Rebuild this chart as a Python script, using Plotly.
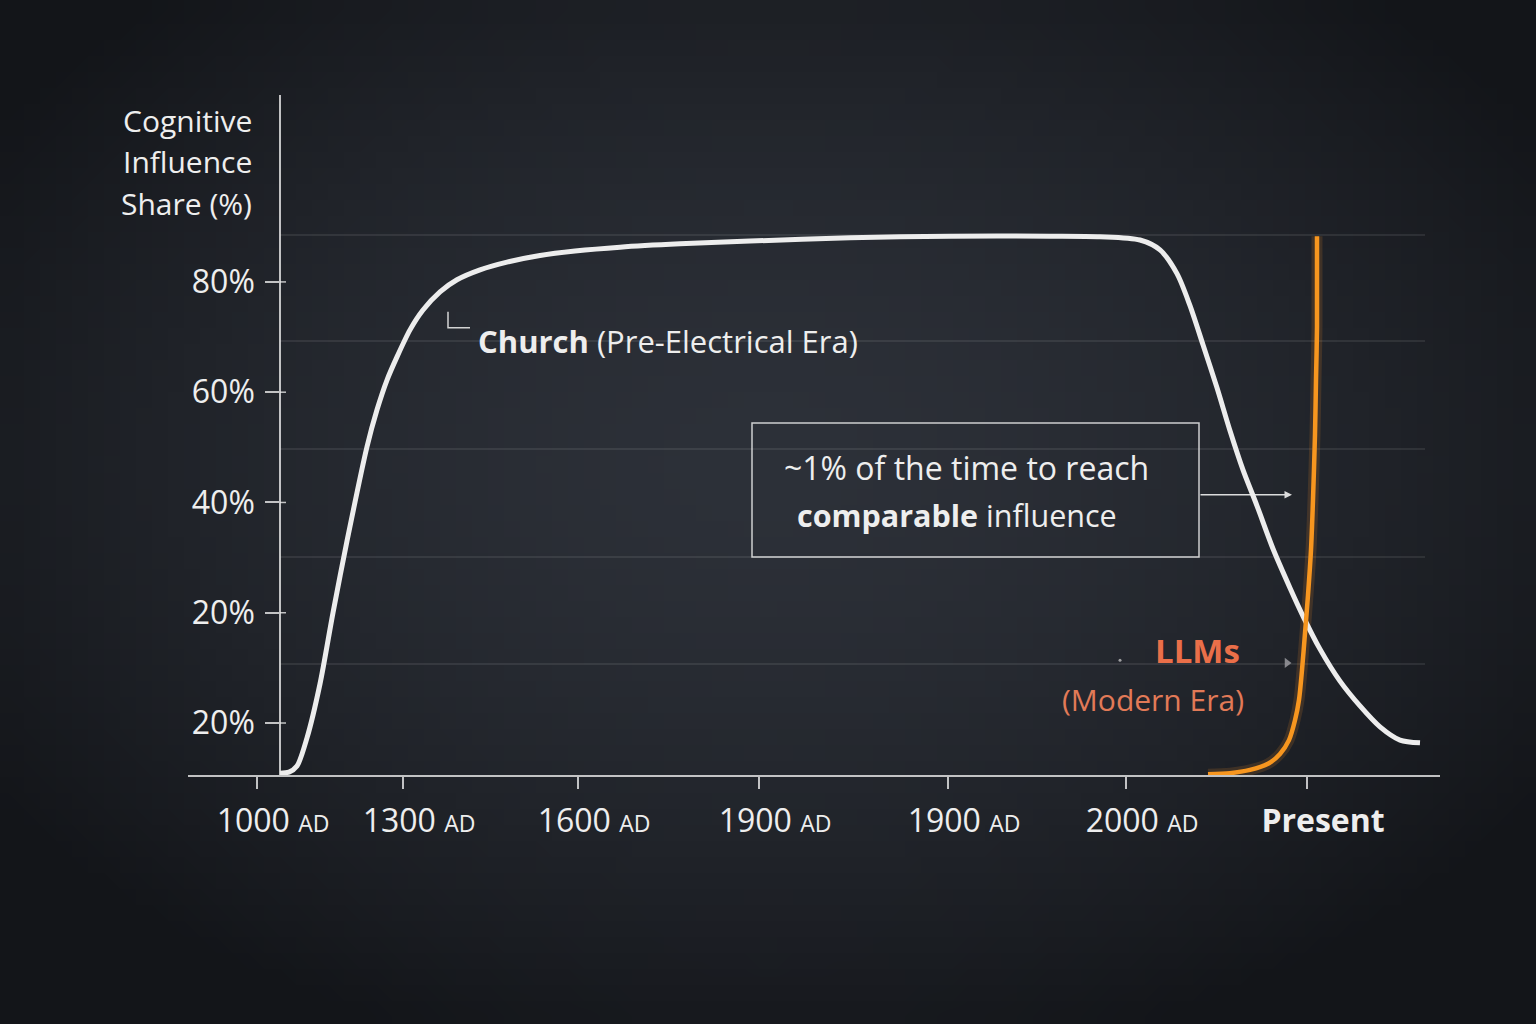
import base64
import struct
import zlib

import numpy as np
import plotly.graph_objects as go

# timeline positions of the x ticks and their labels
tick_pos = [257, 403, 578, 759, 948, 1126, 1307]
tick_years = ["1000", "1300", "1600", "1900", "1900", "2000"]

# y ticks (the picture labels the lowest one "20%" too)
y_tickvals = [0, 20, 40, 60, 80]
y_ticktext = ["20%", "20%", "40%", "60%", "80%"]

# faint horizontal guide lines
grid_levels = [10.7, 30.1, 49.7, 69.3, 88.5]

# Church (pre-electrical era) influence curve
church_x = [280, 289, 297, 307, 320, 333, 347, 367, 377, 387, 397, 410, 423, 440,
            457, 480, 507, 540, 575, 620, 680, 750, 850, 950, 1050, 1100, 1140, 1160,
            1177, 1190, 1203, 1217, 1230, 1243, 1257, 1273, 1290, 1303, 1320, 1340,
            1360, 1380, 1400, 1420]
church_y = [-9.1, -8.9, -7.8, -2.7, 7.1, 20.0, 33.0, 50.1, 56.8, 62.2, 66.4, 71.3,
            74.9, 78.2, 80.4, 82.2, 83.6, 84.8, 85.6, 86.3, 86.9, 87.4, 88.0, 88.3,
            88.3, 88.2, 87.6, 85.8, 81.5, 75.7, 68.6, 60.8, 53.0, 45.9, 39.4, 31.6,
            24.5, 19.4, 13.4, 7.6, 3.1, -0.7, -3.1, -3.6]

# LLM influence curve
llm_x = [1208, 1230, 1250, 1268, 1280, 1289, 1295, 1299, 1302, 1305, 1308, 1311,
         1313, 1315, 1316, 1317, 1317]
llm_y = [-9.3, -9.1, -8.5, -7.4, -5.6, -3.1, 0.5, 4.2, 9.6, 16.3, 23.2, 31.4,
         40.5, 52.4, 62.2, 71.8, 88.3]

Y_RANGE = [-9.43, 113.9]
X_RANGE = [188, 1440]
W, H = 1536, 1024
M_L, M_R, M_T, M_B = 188, 96, 95, 249


def vignette_png(w=96, h=64):
    # dark radial background, lighter in the middle
    yy, xx = np.mgrid[0:h, 0:w]
    d = np.sqrt(((xx / (w - 1) - 0.5) / 0.62) ** 2 + ((yy / (h - 1) - 0.45) / 0.62) ** 2)
    t = np.clip(d, 0, 1) ** 1.6
    inner = np.array([45, 49, 57])
    outer = np.array([19, 21, 25])
    img = (inner[None, None, :] * (1 - t[..., None]) + outer[None, None, :] * t[..., None]).astype(np.uint8)
    raw = b"".join(b"\x00" + img[r].tobytes() for r in range(h))

    def chunk(tag, data):
        c = struct.pack(">I", len(data)) + tag + data
        return c + struct.pack(">I", zlib.crc32(tag + data) & 0xFFFFFFFF)

    png = b"\x89PNG\r\n\x1a\n" + chunk(b"IHDR", struct.pack(">IIBBBBB", w, h, 8, 2, 0, 0, 0))
    png += chunk(b"IDAT", zlib.compress(raw, 9)) + chunk(b"IEND", b"")
    return "data:image/png;base64," + base64.b64encode(png).decode()


fig = go.Figure()

# soft orange glow, then the lines
fig.add_trace(go.Scatter(x=llm_x, y=llm_y, mode="lines",
                         line=dict(color="rgba(255,150,40,0.15)", width=11, shape="spline", smoothing=0.8),
                         hoverinfo="skip"))
fig.add_trace(go.Scatter(x=church_x, y=church_y, mode="lines",
                         line=dict(color="#ededed", width=5, shape="spline", smoothing=0.8)))
fig.add_trace(go.Scatter(x=llm_x, y=llm_y, mode="lines",
                         line=dict(color="#f7961f", width=4.5, shape="spline", smoothing=0.8)))

# little markers near the LLMs label
fig.add_trace(go.Scatter(x=[1287], y=[10.9], mode="markers",
                         marker=dict(symbol="triangle-right", size=9, color="rgba(160,160,165,0.8)")))
fig.add_trace(go.Scatter(x=[1120], y=[11.4], mode="markers",
                         marker=dict(size=3, color="rgba(190,190,190,0.8)")))

shapes = []
for g in grid_levels:
    shapes.append(dict(type="line", xref="x", yref="y", x0=280, x1=1425, y0=g, y1=g,
                       line=dict(color="rgba(255,255,255,0.11)", width=1.5), layer="below"))
# annotation box
shapes.append(dict(type="rect", xref="x", yref="y", x0=752, x1=1199, y0=30.1, y1=54.4,
                   line=dict(color="rgba(235,235,235,0.85)", width=1.5)))
# corner mark next to the Church label
shapes.append(dict(type="path", xref="x", yref="y", path="M 448 74.6 L 448 71.7 L 470 71.7",
                   line=dict(color="rgba(230,230,230,0.9)", width=1.5)))
# right-hand stubs of the y ticks
for v in y_tickvals:
    shapes.append(dict(type="line", xref="x", yref="y", x0=280, x1=286, y0=v, y1=v,
                       line=dict(color="rgba(235,235,235,0.8)", width=1.5)))

fig.update_layout(shapes=shapes)

txt = "#eeeeee"
for line, yv in zip(["Cognitive", "Influence", "Share (%)"], [109.2, 101.8, 94.2]):
    fig.add_annotation(x=254, y=yv, xref="x", yref="y", xanchor="right", yanchor="middle",
                       showarrow=False, text=line, font=dict(size=30, color=txt))
fig.add_annotation(x=476, y=69.3, xref="x", yref="y", xanchor="left", yanchor="middle",
                   showarrow=False, text="<b>Church</b> (Pre-Electrical Era)",
                   font=dict(size=31, color=txt))
fig.add_annotation(x=782, y=46.3, xref="x", yref="y", xanchor="left", yanchor="middle",
                   showarrow=False, text="~1% of the time to reach",
                   font=dict(size=32, color=txt))
fig.add_annotation(x=795, y=37.7, xref="x", yref="y", xanchor="left", yanchor="middle",
                   showarrow=False, text="<b>comparable</b> influence",
                   font=dict(size=30.5, color=txt))
fig.add_annotation(x=1292, y=41.4, ax=1199, ay=41.4, xref="x", yref="y", axref="x", ayref="y",
                   showarrow=True, arrowhead=2, arrowsize=1, arrowwidth=1.5,
                   arrowcolor="rgba(240,240,240,0.9)", text="")
fig.add_annotation(x=1242, y=13.1, xref="x", yref="y", xanchor="right", yanchor="middle",
                   showarrow=False, text="<b>LLMs</b>",
                   font=dict(size=33, color="#ea6f49"))
fig.add_annotation(x=1246, y=4.2, xref="x", yref="y", xanchor="right", yanchor="middle",
                   showarrow=False, text="(Modern Era)",
                   font=dict(size=30, color="#e27a57"))

x_ticktext = [f"{y} <span style='font-size:23px'>AD</span>" for y in tick_years] + ["<b>Present</b>"]

fig.update_layout(
    width=W, height=H,
    margin=dict(l=M_L, r=M_R, t=M_T, b=M_B),
    paper_bgcolor="#23272d",
    plot_bgcolor="rgba(0,0,0,0)",
    font=dict(family="Open Sans", color=txt),
    showlegend=False,
    images=[dict(source=vignette_png(), xref="paper", yref="paper",
                 x=-M_L / (W - M_L - M_R), y=1 + M_T / (H - M_T - M_B),
                 sizex=W / (W - M_L - M_R), sizey=H / (H - M_T - M_B),
                 sizing="stretch", xanchor="left", yanchor="top", layer="below")],
    xaxis=dict(range=X_RANGE, showgrid=False, zeroline=False,
               showline=True, linecolor="rgba(235,235,235,0.8)", linewidth=1.5,
               ticks="outside", ticklen=12, tickwidth=1.5, tickcolor="rgba(235,235,235,0.8)",
               tickvals=tick_pos, ticktext=x_ticktext,
               tickfont=dict(size=32, color=txt),
               ticklabelshift=16, ticklabelstandoff=5),
    yaxis=dict(range=Y_RANGE, showgrid=False, zeroline=False,
               anchor="free", position=(280 - M_L) / (W - M_L - M_R),
               showline=True, linecolor="rgba(235,235,235,0.8)", linewidth=1.5,
               ticks="outside", ticklen=14, tickwidth=1.5, tickcolor="rgba(235,235,235,0.8)",
               tickvals=y_tickvals, ticktext=y_ticktext,
               tickfont=dict(size=32, color=txt), ticklabelstandoff=4),
)

fig.write_html("out.html", config={"displayModeBar": False},
               post_script="document.body.style.margin='0';document.body.style.background='#23272d';")
